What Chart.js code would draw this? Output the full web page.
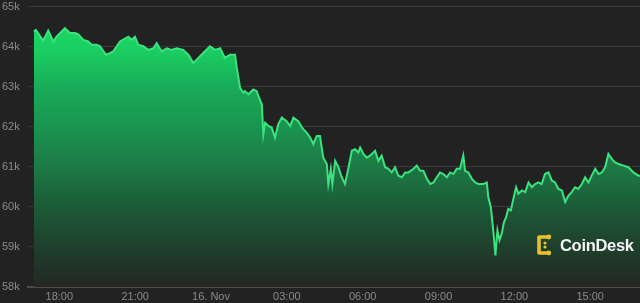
<!DOCTYPE html>
<html>
<head>
<meta charset="utf-8">
<script src="https://cdn.jsdelivr.net/npm/chart.js@4/dist/chart.umd.min.js"></script>
<style>
  html, body { margin: 0; padding: 0; background: #222; }
  #wrap { position: relative; width: 640px; height: 303px; overflow: hidden; }
  #logo { position: absolute; left: 536px; top: 234px; display: flex; align-items: center; }
  #logo span { font-family: 'Liberation Sans', Arial, sans-serif; font-weight: bold; font-size: 16.5px; color: #f4f4f4; margin-left: 8px; letter-spacing: -0.3px; }
</style>
</head>
<body>
<div id="wrap">
  <canvas id="btcChart" width="640" height="303"></canvas>
  <div id="logo">
    <svg width="16" height="22" viewBox="0 0 16 22">
      <path d="M11 3 H3 V19 H11" fill="none" stroke="#e6c22c" stroke-width="3.6" stroke-linejoin="round"/>
      <circle cx="12.8" cy="3" r="2.4" fill="#e6c22c"/>
      <circle cx="12.8" cy="19" r="2.4" fill="#e6c22c"/>
      <circle cx="9" cy="9" r="1.6" fill="#e6c22c"/>
      <circle cx="9" cy="13" r="1.6" fill="#e6c22c"/>
    </svg>
    <span>CoinDesk</span>
  </div>
</div>
<script>
// hours since 15 Nov 00:00
const times = [
  16.99, 17.07, 17.36, 17.56, 17.76, 17.89, 18.22, 18.42, 18.62, 18.75,
  18.95, 19.14, 19.28, 19.48, 19.61, 19.84, 20.00, 20.13, 20.40, 20.73,
  20.86, 20.99, 21.12, 21.32, 21.52, 21.72, 21.85, 22.05, 22.25, 22.44,
  22.64, 22.90, 23.10, 23.30, 23.50, 23.69, 23.96, 24.16, 24.36, 24.55,
  24.75, 24.95, 25.02, 25.15, 25.28, 25.34, 25.48, 25.67, 25.81, 25.87,
  26.01, 26.07, 26.14, 26.27, 26.40, 26.53, 26.66, 26.80, 26.99, 27.13,
  27.26, 27.45, 27.65, 27.79, 27.92, 28.05, 28.18, 28.31, 28.44, 28.58,
  28.64, 28.74, 28.80, 28.91, 29.04, 29.17, 29.30, 29.43, 29.57, 29.70,
  29.83, 29.90, 30.03, 30.16, 30.29, 30.49, 30.62, 30.75, 30.89, 31.02,
  31.15, 31.28, 31.41, 31.55, 31.68, 31.81, 32.01, 32.14, 32.27, 32.40,
  32.54, 32.67, 32.80, 32.93, 33.06, 33.19, 33.33, 33.46, 33.59, 33.72,
  33.85, 33.98, 34.05, 34.18, 34.32, 34.45, 34.58, 34.77, 34.91, 34.97,
  35.07, 35.15, 35.20, 35.25, 35.33, 35.41, 35.50, 35.59, 35.67, 35.76,
  35.86, 35.96, 36.07, 36.16, 36.30, 36.43, 36.56, 36.69, 36.82, 36.95,
  37.08, 37.21, 37.35, 37.48, 37.61, 37.74, 37.88, 38.01, 38.14, 38.27,
  38.40, 38.53, 38.67, 38.80, 38.93, 39.06, 39.20, 39.33, 39.46, 39.59,
  39.72, 39.86, 39.99, 40.12, 40.32, 40.51, 40.71, 40.91, 40.97
];
const prices = [
  64380, 64420, 64150, 64400, 64130, 64250, 64460, 64340, 64340, 64310,
  64170, 64130, 64050, 64050, 64010, 63800, 63840, 63880, 64130, 64250,
  64170, 64250, 64050, 64010, 63920, 63960, 64090, 63880, 63960, 63920,
  63960, 63920, 63800, 63590, 63720, 63840, 64010, 63920, 63960, 63720,
  63800, 63800, 63470, 62970, 62850, 62890, 62810, 62930, 62890, 62770,
  62560, 61810, 62100, 62020, 61980, 61730, 62060, 62230, 62140, 62020,
  62230, 62140, 61940, 61850, 61730, 61570, 61770, 61770, 61230, 61070,
  60570, 60950, 60570, 61150, 60990, 60740, 60570, 60950, 61400, 61440,
  61360, 61480, 61320, 61230, 61280, 61400, 61150, 61280, 60990, 60950,
  60860, 60990, 60780, 60740, 60860, 60860, 60950, 61030, 60900, 60900,
  60700, 60570, 60610, 60740, 60860, 60820, 60740, 60860, 60820, 60950,
  60950, 61280, 60900, 60860, 60700, 60610, 60570, 60570, 60610, 60240,
  59990, 59500, 59170, 58790, 59410, 59170, 59330, 59620, 59740, 59950,
  59910, 60200, 60490, 60330, 60410, 60370, 60610, 60490, 60570, 60610,
  60570, 60820, 60860, 60660, 60610, 60450, 60410, 60120, 60280, 60370,
  60490, 60450, 60570, 60740, 60610, 60780, 60950, 60820, 60860, 60990,
  61320, 61190, 61110, 61070, 61030, 60990, 60860, 60780, 60780
];

const tickHours = [18, 21, 24, 27, 30, 33, 36, 39];
const tickLabels = ['18:00', '21:00', '16. Nov', '03:00', '06:00', '09:00', '12:00', '15:00'];
const yTicks = [58000, 59000, 60000, 61000, 62000, 63000, 64000, 65000];

const points = times.map((t, i) => ({ x: t, y: prices[i] }));

const config = {
  type: 'line',
  data: {
    datasets: [{
      data: points,
      borderColor: '#3be37f',
      borderWidth: 2,
      pointRadius: 0,
      tension: 0,
      fill: 'start',
      backgroundColor: (c) => {
        const a = c.chart.chartArea;
        if (!a) return null;
        const g = c.chart.ctx.createLinearGradient(0, a.top, 0, a.bottom);
        g.addColorStop(0, '#1edc68');
        g.addColorStop(0.15, '#1bcf62');
        g.addColorStop(0.3, '#18a957');
        g.addColorStop(0.43, '#1a9450');
        g.addColorStop(0.57, '#1c7a45');
        g.addColorStop(0.71, '#1c5c38');
        g.addColorStop(0.86, '#1f3f2c');
        g.addColorStop(1, '#232723');
        return g;
      }
    }]
  },
  options: {
    responsive: false,
    animation: false,
    layout: { padding: { top: 5, left: 2, right: 0, bottom: 0 } },
    plugins: {
      legend: { display: false },
      tooltip: { enabled: false }
    },
    scales: {
      x: {
        type: 'linear',
        min: 16.76,
        max: 40.97,
        afterBuildTicks: (scale) => {
          scale.ticks = tickHours.map(v => ({ value: v }));
        },
        afterFit: (scale) => { scale.height = 16; },
        grid: { display: false, drawTicks: false },
        border: { display: true, color: '#4c4c4c', width: 2 },
        ticks: {
          maxRotation: 0,
          autoSkip: false,
          padding: 3,
          color: '#8a8a8a',
          font: { family: 'Liberation Sans', size: 11 },
          callback: (v) => tickLabels[tickHours.indexOf(v)]
        }
      },
      y: {
        min: 58000,
        max: 65000,
        z: 1,
        afterBuildTicks: (scale) => {
          scale.ticks = yTicks.map(v => ({ value: v }));
        },
        afterFit: (scale) => { scale.width = 26; },
        grid: { color: 'rgba(255,255,255,0.1)', drawTicks: false },
        border: { display: false },
        ticks: {
          crossAlign: 'far',
          padding: 0,
          color: '#8a8a8a',
          font: { family: 'Liberation Sans', size: 11 },
          callback: (v) => (v / 1000) + 'k'
        }
      }
    }
  }
};

const btcChart = new Chart(document.getElementById('btcChart'), config);
</script>
</body>
</html>
